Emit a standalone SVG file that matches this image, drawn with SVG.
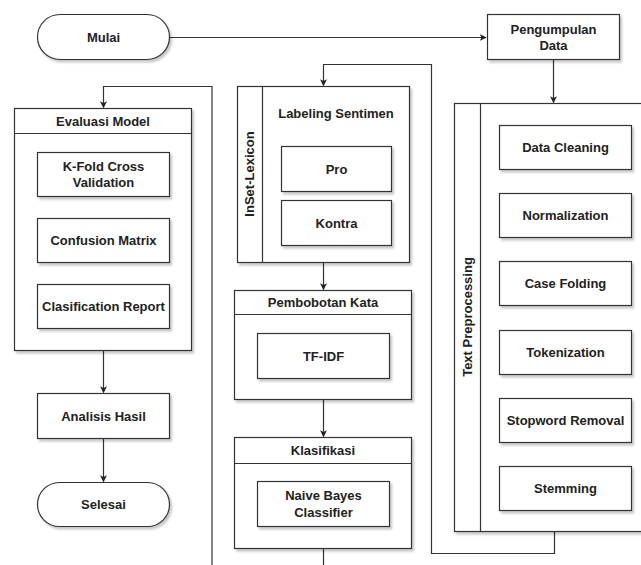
<svg xmlns="http://www.w3.org/2000/svg" width="641" height="565" viewBox="0 0 641 565">
<defs>
<filter id="sh" x="-10%" y="-10%" width="130%" height="140%">
<feDropShadow dx="2" dy="2.5" stdDeviation="1.2" flood-color="#000" flood-opacity="0.22"/>
</filter>
<marker id="ar" viewBox="0 0 10 10" refX="9" refY="5" markerWidth="7" markerHeight="7" orient="auto" markerUnits="userSpaceOnUse">
<path d="M0,0 L10,5 L0,10 L2.5,5 z" fill="#222"/>
</marker>
</defs>
<style>
.b{fill:#fff;stroke:#333;stroke-width:1.2;filter:url(#sh)}
.l{fill:none;stroke:#333;stroke-width:1.2}
.e{fill:none;stroke:#333;stroke-width:1.2}
text{font-family:"Liberation Sans",Arial,Helvetica,sans-serif;font-size:13px;font-weight:bold;fill:#222;text-anchor:middle;dominant-baseline:central}
</style>
<rect width="641" height="565" fill="#fff"/>

<g id="connectors">
<path class="e" d="M169,37.5 H486" marker-end="url(#ar)"/>
<path class="e" d="M553.5,59 V102.5" marker-end="url(#ar)"/>
<path class="e" d="M554.5,531 V553.5 H431.5 V64.5 H323.5 V85.5" marker-end="url(#ar)"/>
<path class="e" d="M323.5,262 V289.5" marker-end="url(#ar)"/>
<path class="e" d="M323.5,399 V436.5" marker-end="url(#ar)"/>
<path class="e" d="M323.5,548 V565"/>
<path class="e" d="M212,565 V86.5 H103.5 V107.5" marker-end="url(#ar)"/>
<path class="e" d="M103.5,350 V392.5" marker-end="url(#ar)"/>
<path class="e" d="M103.5,438 V481.5" marker-end="url(#ar)"/>
</g>

<g id="mulai">
<rect class="b" x="37.5" y="14.5" width="132" height="45" rx="22.5"/>
<text x="103.5" y="37">Mulai</text>
</g>

<g id="pengumpulan-data">
<rect class="b" x="487.5" y="14.5" width="132" height="45"/>
<text x="553.5" y="29">Pengumpulan</text>
<text x="553.5" y="45.5">Data</text>
</g>

<g id="text-preprocessing">
<rect class="b" x="454.5" y="103.5" width="210" height="428"/>
<line class="l" x1="480.5" y1="103.5" x2="480.5" y2="531.5"/>
<text transform="translate(467.5,317) rotate(-90)">Text Preprocessing</text>
</g>
<g id="data-cleaning"><rect class="b" x="499.5" y="125.5" width="132" height="44"/><text x="565.5" y="147.5">Data Cleaning</text></g>
<g id="normalization"><rect class="b" x="499.5" y="193.5" width="132" height="44"/><text x="565.5" y="215.5">Normalization</text></g>
<g id="case-folding"><rect class="b" x="499.5" y="261.5" width="132" height="44"/><text x="565.5" y="283.5">Case Folding</text></g>
<g id="tokenization"><rect class="b" x="499.5" y="330.5" width="132" height="44"/><text x="565.5" y="352.5">Tokenization</text></g>
<g id="stopword-removal"><rect class="b" x="499.5" y="398.5" width="132" height="44"/><text x="565.5" y="420.5">Stopword Removal</text></g>
<g id="stemming"><rect class="b" x="499.5" y="466.5" width="132" height="44"/><text x="565.5" y="488.5">Stemming</text></g>

<g id="inset-lexicon">
<rect class="b" x="237.5" y="86.5" width="172" height="176"/>
<line class="l" x1="262.5" y1="86.5" x2="262.5" y2="262.5"/>
<text transform="translate(249.5,174) rotate(-90)">InSet-Lexicon</text>
<text x="336" y="113">Labeling Sentimen</text>
</g>
<g id="pro"><rect class="b" x="281.5" y="146.5" width="110" height="45"/><text x="336.5" y="169">Pro</text></g>
<g id="kontra"><rect class="b" x="281.5" y="200.5" width="110" height="45"/><text x="336.5" y="223">Kontra</text></g>

<g id="pembobotan-kata">
<rect class="b" x="234.5" y="290.5" width="177" height="109"/>
<line class="l" x1="234.5" y1="314.5" x2="411.5" y2="314.5"/>
<text x="323" y="302.5">Pembobotan Kata</text>
</g>
<g id="tf-idf"><rect class="b" x="257.5" y="333.5" width="132" height="45"/><text x="323.5" y="356">TF-IDF</text></g>

<g id="klasifikasi">
<rect class="b" x="234.5" y="437.5" width="177" height="111"/>
<line class="l" x1="234.5" y1="463.5" x2="411.5" y2="463.5"/>
<text x="323" y="450.5">Klasifikasi</text>
</g>
<g id="naive-bayes"><rect class="b" x="257.5" y="481.5" width="132" height="45"/><text x="323.5" y="495.5">Naive Bayes</text><text x="323.5" y="512">Classifier</text></g>

<g id="evaluasi-model">
<rect class="b" x="14.5" y="108.5" width="177" height="242"/>
<line class="l" x1="14.5" y1="133.5" x2="191.5" y2="133.5"/>
<text x="103" y="121">Evaluasi Model</text>
</g>
<g id="k-fold"><rect class="b" x="37.5" y="152.5" width="132" height="44"/><text x="103.5" y="166">K-Fold Cross</text><text x="103.5" y="182.5">Validation</text></g>
<g id="confusion-matrix"><rect class="b" x="37.5" y="218.5" width="132" height="44"/><text x="103.5" y="240.5">Confusion Matrix</text></g>
<g id="clasification-report"><rect class="b" x="37.5" y="284.5" width="132" height="44"/><text x="103.5" y="306.5">Clasification Report</text></g>

<g id="analisis-hasil"><rect class="b" x="37.5" y="393.5" width="132" height="45"/><text x="103.5" y="416">Analisis Hasil</text></g>

<g id="selesai"><rect class="b" x="37.5" y="482.5" width="132" height="44" rx="22"/><text x="103.5" y="504.5">Selesai</text></g>
</svg>
